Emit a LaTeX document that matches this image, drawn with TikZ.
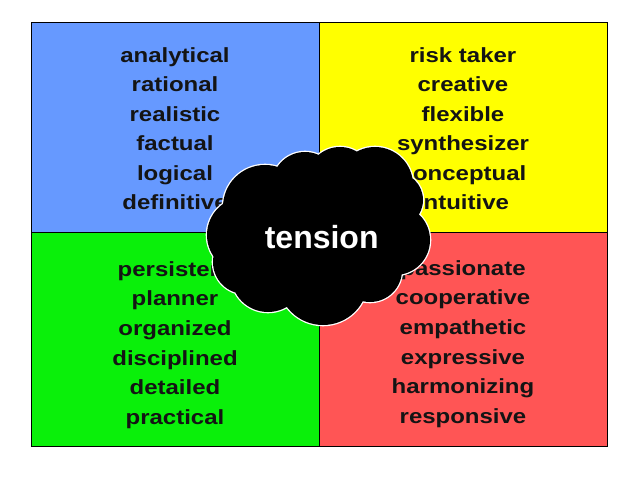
\documentclass[tikz,border=0pt]{standalone}
\usepackage{fontspec}
\setmainfont{Liberation Sans}
\newfontfamily\quadfont{Liberation Sans}[FakeStretch=1.17]
\definecolor{qblue}{RGB}{102,153,255}
\definecolor{qyellow}{RGB}{255,255,0}
\definecolor{qgreen}{RGB}{10,240,10}
\definecolor{qred}{RGB}{255,85,85}
\tikzset{
  quad/.style={draw=black, line width=0.8pt},
  qtext/.style={anchor=base, inner sep=0pt, font=\quadfont\bfseries\fontsize{20.5}{24}\selectfont, text=black!92},
  puffline/.style={draw=white, line width=2.6pt},
  pufffill/.style={fill=black},
  ctext/.style={anchor=base, inner sep=0pt, text=white, font=\bfseries\fontsize{32}{36}\selectfont}
}
\newcommand{\puffs}{%
  (265,207) circle[radius=42]
  (305,185) circle[radius=33]
  (340,180) circle[radius=33]
  (375,185) circle[radius=38]
  (395,200) circle[radius=28]
  (395,240) circle[radius=35]
  (245,235) circle[radius=38]
  (245,262) circle[radius=32]
  (268,275) circle[radius=37]
  (323,280) circle[radius=45]
  (370,270) circle[radius=32]}
\begin{document}
\begin{tikzpicture}[x=1pt,y=-1pt]
\useasboundingbox (0,0) rectangle (638,479);
\fill[white] (0,0) rectangle (638,479);
\fill[qblue] (31,22) rectangle (319,232);
\fill[qyellow] (319,22) rectangle (607,232);
\fill[qgreen] (31,232) rectangle (319,446);
\fill[qred] (319,232) rectangle (607,446);
\draw[quad] (31,22) rectangle (607,446);
\draw[quad] (319,22) -- (319,446);
\draw[quad] (31,232) -- (607,232);
\foreach \t [count=\i] in {analytical,rational,realistic,factual,logical,definitive}
  \node[qtext] (tl\i) at (175,{62+(\i-1)*29.5}) {\t};
\foreach \t [count=\i] in {risk taker,creative,flexible,synthesizer,conceptual,intuitive}
  \node[qtext] (tr\i) at (463,{62+(\i-1)*29.5}) {\t};
\foreach \t [count=\i] in {persistent,planner,organized,disciplined,detailed,practical}
  \node[qtext] (bl\i) at (175,{276+(\i-1)*29.7}) {\t};
\foreach \t [count=\i] in {passionate,cooperative,empathetic,expressive,harmonizing,responsive}
  \node[qtext] (br\i) at (463,{275+(\i-1)*29.7}) {\t};
% cloud: white outline of the union of puffs, then black fill
\path[puffline] \puffs;
\path[pufffill] \puffs;
\fill[black] (318,235) ellipse[x radius=80, y radius=55];
\node[ctext] (tension) at (321.7,248.3) {tension};
\end{tikzpicture}
\end{document}
